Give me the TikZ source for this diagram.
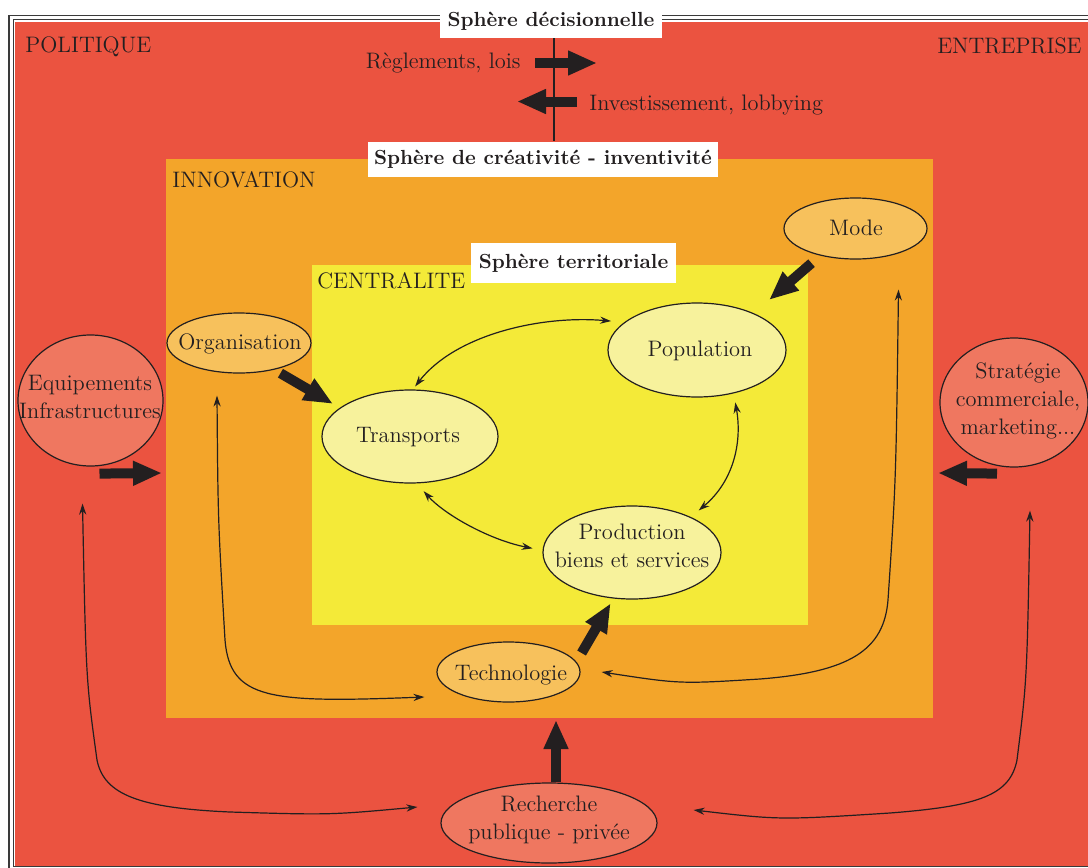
\documentclass[tikz,border=0pt]{standalone}
\usepackage{fontspec}
\usetikzlibrary{shapes.geometric,arrows.meta}
\definecolor{cRed}{HTML}{EB5340}
\definecolor{cOrange}{HTML}{F3A52A}
\definecolor{cYellow}{HTML}{F4EA38}
\definecolor{cRedL}{HTML}{EF7760}
\definecolor{cOrangeL}{HTML}{F7C15C}
\definecolor{cYellowL}{HTML}{F7F29C}
\definecolor{ink}{HTML}{231F20}
\definecolor{frameC}{HTML}{3A3A3A}
\newcommand\ftxt{\fontsize{11.2}{14}\selectfont}
\newcommand\fbold{\fontsize{10.2}{12}\selectfont\bfseries}
\begin{document}
\begin{tikzpicture}[x=0.5pt,y=-0.5pt,
  ellbase/.style={ellipse, draw=ink, line width=0.6pt, inner sep=0pt},
  etxt/.style={font=\ftxt, align=center, inner sep=0pt, text=ink},
  lab/.style={font=\ftxt, inner sep=0pt, text=ink},
  sph/.style={fill=white, font=\fbold, text=ink, inner sep=0pt, align=center},
  bigarrow/.style={draw=ink, line width=5pt, -{Triangle[length=14.5pt,width=11.5pt]}},
  thinarrow/.style={draw=ink, line width=0.6pt, {Stealth[length=5.5pt,width=3.6pt]}-{Stealth[length=5.5pt,width=3.6pt]}},
]
\useasboundingbox (0,0) rectangle (1088,868);
\clip (0,0) rectangle (1088,868);
\fill[white] (0,0) rectangle (1088,868);
% frame and spheres
\fill[cRed] (15,21.5) rectangle (1100,866);
\draw[frameC, line width=0.7pt] (9,15.7) rectangle (1110,880);
\draw[frameC, line width=0.6pt] (13.5,19.5) rectangle (1105,866.5);
\fill[cOrange] (165.5,158.5) rectangle (933,718);
\fill[cYellow] (311.5,265) rectangle (807.5,625);

% sphere titles
\node[sph, minimum width=111pt, minimum height=16.5pt] (sdec) at (551,21.5) {Sphère décisionnelle};
\node[sph, minimum width=175pt, minimum height=17.5pt] (screa) at (543,159.2) {Sphère de créativité - inventivité};
\node[sph, minimum width=102.5pt, minimum height=20pt] (sterr) at (573.5,263) {Sphère territoriale};

% zone labels
\node[lab, anchor=base west] (politique) at (25,52.7) {POLITIQUE};
\node[lab, anchor=base east] (entreprise) at (1082,53) {ENTREPRISE};
\node[lab, anchor=base west] (innovL) at (172,187) {INNOVATION};
\node[lab, anchor=base west] (centrL) at (317,288) {CENTRALITE};
\node[lab, anchor=base east] (regl) at (521,68.3) {Règlements, lois};
\node[lab, anchor=base west] (invest) at (589,110) {Investissement, lobbying};

% vertical separator and top arrows
\coordinate (vx) at (554,0);
\draw[ink, line width=0.65pt] (sdec.south -| vx) -- (screa.north -| vx);
\coordinate (rA) at (535,63);
\coordinate (rB) at (597,63);
\coordinate (lA) at (577,101.5);
\coordinate (lB) at (517,101.5);
\draw[bigarrow] (rA) -- (rB);
\draw[bigarrow] (lA) -- (lB);

% ellipses
\node[ellbase, fill=cRedL, minimum width=72.5pt, minimum height=65.5pt] (equip) at (90.5,400.5) {};
\node[ellbase, fill=cOrangeL, minimum width=72pt, minimum height=30pt] (org) at (239,343) {};
\node[ellbase, fill=cYellowL, minimum width=88pt, minimum height=46.5pt] (trans) at (410,436.5) {};
\node[ellbase, fill=cYellowL, minimum width=89pt, minimum height=47pt] (pop) at (697,350) {};
\node[ellbase, fill=cYellowL, minimum width=89pt, minimum height=46.5pt] (prod) at (632,552.5) {};
\node[ellbase, fill=cOrangeL, minimum width=71.5pt, minimum height=30.5pt] (mode) at (855.5,228.5) {};
\node[ellbase, fill=cRedL, minimum width=74pt, minimum height=64.5pt] (strat) at (1014,402.5) {};
\node[ellbase, fill=cOrangeL, minimum width=71.5pt, minimum height=30pt] (tech) at (508.5,672) {};
\node[ellbase, fill=cRedL, minimum width=108pt, minimum height=40pt] (rech) at (549,823) {};

% ellipse texts
\node[etxt] (equipT) at (90,397) {Equipements\\Infrastructures};
\node[etxt] (orgT) at (240,344) {Organisation};
\node[etxt] (transT) at (408,437) {Transports};
\node[etxt] (popT) at (700,351) {Population};
\node[etxt] (prodT) at (632,546) {Production\\biens et services};
\node[etxt] (modeT) at (856,228) {Mode};
\node[etxt] (stratT) at (1018,401) {Stratégie\\commerciale,\\marketing...};
\node[etxt] (techT) at (511,675) {Technologie};
\node[etxt] (rechT) at (549,820) {Recherche\\publique - privée};

% thin double arrows
\draw[thinarrow] ([shift={(1,-3)}]trans.85) .. controls (455,335) and (540,315) .. ([shift={(-12,-2)}]pop.160);
\draw[thinarrow] ([shift={(6,8)}]pop.-54) .. controls (742,440) and (735,480) .. ([shift={(9,-6)}]prod.32);
\draw[thinarrow] ([shift={(2,8)}]trans.-76) .. controls (445,515) and (490,540) .. ([shift={(-10,-1)}]prod.178);
\draw[thinarrow] ([shift={(-22,22)}]org.south) .. controls (218,520) .. (225,640) .. controls (230,700) and (270,703) .. ([shift={(-12,25)}]tech.west);
\draw[thinarrow] ([shift={(43,30)}]mode.south) .. controls (896,480) .. (888,600) .. controls (884,650) and (850,672) .. (760,679) .. controls (680,684) .. ([shift={(21,0)}]tech.east);
\draw[thinarrow] ([shift={(-8,37)}]equip.south) .. controls (86,680) .. (97,760) .. controls (104,795) and (140,808) .. (230,812) .. controls (330,815) .. ([shift={(-23,-16)}]rech.west);
\draw[thinarrow] ([shift={(16,43)}]strat.south) .. controls (1027,680) .. (1017,760) .. controls (1010,795) and (980,806) .. (890,813) .. controls (780,820) .. ([shift={(36,-13)}]rech.east);

% thick arrows
\coordinate (eqE) at (162,473);
\coordinate (stE) at (938,473);
\coordinate (rtE) at (556,720);
\draw[bigarrow] ([shift={(9,7)}]equip.south) -- (eqE);
\draw[bigarrow] ([shift={(-17,6)}]strat.south) -- (stE);
\draw[bigarrow] ([shift={(4,4)}]org.-35) -- ([shift={(-17,2)}]trans.150);
\draw[bigarrow] ([shift={(-11,7)}]mode.220) -- ([shift={(30,-8)}]pop.45);
\draw[bigarrow] ([shift={(1,-19)}]tech.east) -- ([shift={(0,5)}]prod.245);
\draw[bigarrow] ([shift={(7,0)}]rech.north) -- (rtE);
\end{tikzpicture}
\end{document}
